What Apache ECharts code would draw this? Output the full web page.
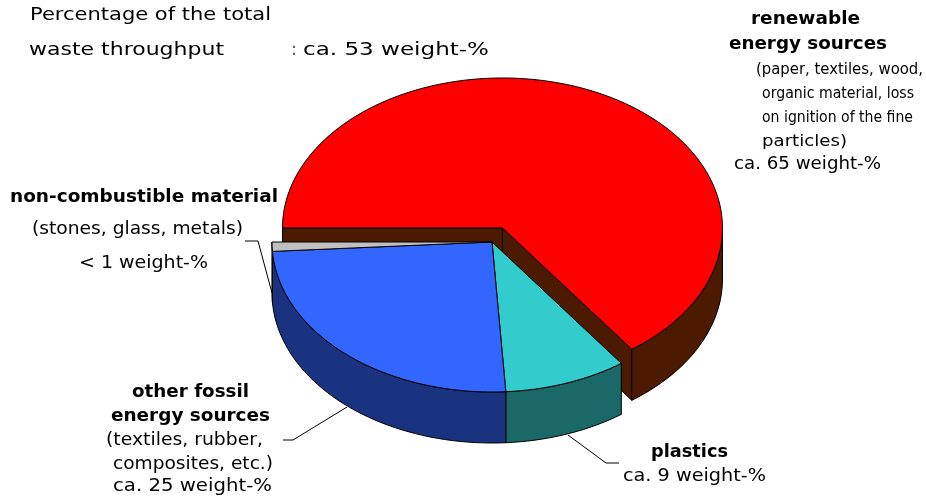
<!DOCTYPE html>
<html>
<head>
<meta charset="utf-8">
<script src="https://cdn.jsdelivr.net/npm/echarts@6/dist/echarts.min.js"></script>
<style>
html,body{margin:0;padding:0;background:#fff;}
#main{width:926px;height:499px;}
</style>
</head>
<body>
<div id="main"></div>
<script>
// slices, clockwise from 9 o'clock
var sliceNames = ['renewable energy sources', 'plastics', 'other fossil energy sources', 'non-combustible material'];
var sliceValues = [65, 9, 25, 1];
var topColors = ['#ff0000', '#33cccc', '#3366ff', '#c0c0c0'];
var sideColors = ['#4c1a00', '#1b6868', '#1a3380', '#808080'];
var explodeBy = [0.105, 0, 0, 0];

var FONT = '"DejaVu Sans", Verdana, sans-serif';
var cx = 492, cy = 242, ra = 220, rb = 150, depth = 51, startDeg = 180;

var total = 0;
for (var s = 0; s < sliceValues.length; s++) total += sliceValues[s];

function renderItem(params, api) {
    var i = params.dataIndex;
    var v = api.value(0);
    var before = 0;
    for (var k = 0; k < i; k++) before += sliceValues[k];
    var t1 = startDeg + before / total * 360;
    var t2 = t1 + v / total * 360;
    var mid = (t1 + t2) / 2 * Math.PI / 180;
    var ox = cx + explodeBy[i] * ra * Math.cos(mid);
    var oy = cy + explodeBy[i] * rb * Math.sin(mid);

    function pt(t, down) {
        var r = t * Math.PI / 180;
        return [ox + ra * Math.cos(r), oy + rb * Math.sin(r) + (down ? depth : 0)];
    }
    function arc(ta, tb, down) {
        var pts = [];
        var n = Math.max(2, Math.ceil(Math.abs(tb - ta) / 2));
        for (var j = 0; j <= n; j++) pts.push(pt(ta + (tb - ta) * j / n, down));
        return pts;
    }
    var edge = {stroke: '#000', lineWidth: 1, lineJoin: 'round'};
    var children = [];

    // cut faces, only seen when the slice is pulled out
    if (explodeBy[i] > 0) {
        [t1, t2].forEach(function (t, idx) {
            var c = Math.cos(t * Math.PI / 180);
            if ((idx === 0 && c < 0) || (idx === 1 && c > 0)) {
                children.push({
                    type: 'polygon',
                    z2: 2,
                    shape: {points: [[ox, oy], pt(t, false), pt(t, true), [ox, oy + depth]]},
                    style: Object.assign({fill: sideColors[i]}, edge)
                });
            }
        });
    }
    // outer wall, front half only
    [[0, 180], [360, 540]].forEach(function (rg) {
        var ta = Math.max(t1, rg[0]), tb = Math.min(t2, rg[1]);
        if (tb > ta) {
            children.push({
                type: 'polygon',
                z2: 5,
                shape: {points: arc(ta, tb, false).concat(arc(tb, ta, true))},
                style: Object.assign({fill: sideColors[i]}, edge)
            });
        }
    });
    // top face
    children.push({
        type: 'polygon',
        z2: 20,
        shape: {points: [[ox, oy]].concat(arc(t1, t2, false))},
        style: Object.assign({fill: topColors[i]}, edge)
    });
    return {type: 'group', children: children};
}

// label lines: text, left, right, middle y, bold, font size
var labelLines = [
    ['Percentage of the total', 30, 271, 15, false, 18],
    ['waste throughput', 29, 224, 50, false, 18],
    [':', 292, 296, 50, false, 18],
    ['ca. 53 weight-%', 303, 489, 50, false, 18],

    ['renewable', 751, 860, 20, true, 17],
    ['energy sources', 729, 887, 45, true, 17],
    ['(paper, textiles, wood,', 756, 923, 70, false, 16],
    ['organic material, loss', 762, 914, 94, false, 16],
    ['on ignition of the fine', 762, 913, 118, false, 16],
    ['particles)', 762, 847, 142, false, 16],
    ['ca. 65 weight-%', 734, 881, 165, false, 17],

    ['non-combustible material', 10, 278, 198, true, 17],
    ['(stones, glass, metals)', 32, 243, 230, false, 17],
    ['< 1 weight-%', 79, 208, 264, false, 17],

    ['other fossil', 132, 249, 393, true, 17],
    ['energy sources', 111, 270, 417, true, 17],
    ['(textiles, rubber,', 106, 263, 441, false, 17],
    ['composites, etc.)', 113, 273, 465, false, 17],
    ['ca. 25 weight-%', 113, 272, 487, false, 17],

    ['plastics', 651, 728, 453, true, 17],
    ['ca. 9 weight-%', 623, 766, 477, false, 17]
];
var leaderLines = [
    [[245, 241], [258, 241], [272, 293]],
    [[283, 440], [293, 440], [347, 407]],
    [[568, 435], [606, 463], [619, 463]]
];

var measureCtx = document.createElement('canvas').getContext('2d');
function txt(row) {
    var font = (row[4] ? 'bold ' : '') + row[5] + 'px ' + FONT;
    measureCtx.font = font;
    var w = measureCtx.measureText(row[0]).width;
    return {
        type: 'text',
        x: row[1], y: row[3],
        scaleX: (row[2] - row[1]) / w,
        style: {text: row[0], fill: '#000', font: font, align: 'left', verticalAlign: 'middle'}
    };
}

var graphics = labelLines.map(txt).concat(leaderLines.map(function (p) {
    return {type: 'polyline', shape: {points: p}, style: {stroke: '#000', lineWidth: 1, fill: null}};
}));

var chart = echarts.init(document.getElementById('main'));
chart.setOption({
    animation: false,
    series: [{
        type: 'custom',
        coordinateSystem: 'none',
        renderItem: renderItem,
        data: sliceValues.map(function (v, i) { return {name: sliceNames[i], value: [v]}; })
    }],
    graphic: graphics
});
</script>
</body>
</html>
